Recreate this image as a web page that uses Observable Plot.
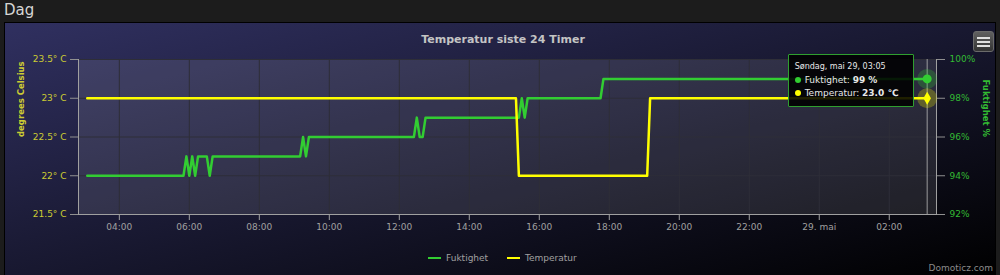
<!DOCTYPE html>
<html>
<head>
<meta charset="utf-8">
<script src="https://cdn.jsdelivr.net/npm/d3@7"></script>
<script src="https://cdn.jsdelivr.net/npm/@observablehq/plot@0.6"></script>
<style>
  html, body { margin: 0; padding: 0; }
  body { width: 1000px; height: 275px; overflow: hidden; position: relative;
         background: #1c1c1c; font-family: "DejaVu Sans", sans-serif; }
  #hdr { position: absolute; left: 4px; top: 1px; font-size: 15px; color: #d6d6d6; }
  #panel { position: absolute; left: 5px; top: 23px; width: 990px; height: 252px; overflow: hidden;
           background: linear-gradient(to bottom right, rgb(48,48,96), rgb(0,0,0));
           outline: 1px solid #000; }
  #panel svg { position: absolute; left: 0; top: 0; }
  #title { position: absolute; top: 10px; left: 498px; transform: translateX(-50%); white-space: nowrap;
           font-size: 11px; font-weight: bold; color: #c4c4c4; line-height: 13px; }
  .leg { position: absolute; top: 229px; font-size: 9px; color: #a0a0a0; line-height: 12px; white-space: nowrap; }
  .leg i { display: inline-block; width: 13px; height: 2px; vertical-align: middle; margin-right: 5px; margin-top: -2px; }
  #tip { position: absolute; width: 124px; height: 51px; background: rgba(0,0,0,0.88);
         border: 1px solid #2f9f2f; border-radius: 1px; color: #e8e8e8; font-size: 9px; }
  #tip .h { position: absolute; left: 6px; top: 7px; font-size: 8px; }
  #tip .r { position: absolute; left: 6px; white-space: nowrap; }
  #tip .r b { font-weight: bold; }
  #tip .d { display: inline-block; width: 6px; height: 6px; border-radius: 3px; margin-right: 4px; vertical-align: 0px; }
  #menu { position: absolute; left: 968px; top: 8px; width: 19px; height: 19px; border-radius: 3px;
          background: linear-gradient(#606060, #333333); border: 1px solid #6a6a6a; }
  #menu span { position: absolute; left: 3px; width: 13px; height: 2px; background: #e0e0e0; }
  #credit { position: absolute; right: 2px; top: 240px; font-size: 9px; line-height: 11px; color: #8a8a8a; }
</style>
</head>
<body>
<div id="hdr">Dag</div>
<div id="panel">
  <div id="chart"></div>
  <div id="title">Temperatur siste 24 Timer</div>
  <div class="leg" style="left:423px"><i style="background:#32cd32"></i>Fuktighet</div>
  <div class="leg" style="left:502px"><i style="background:#ffff00"></i>Temperatur</div>
  <div id="menu"><span style="top:5px"></span><span style="top:9px"></span><span style="top:13px"></span></div>
  <div id="credit">Domoticz.com</div>
</div>
<script>
// ---- data ----
const tempTime = ["2016-05-28T03:05Z","2016-05-28T15:20Z","2016-05-28T15:25Z","2016-05-28T19:05Z","2016-05-28T19:10Z","2016-05-29T03:05Z"];
const tempValue = [23, 23, 22, 22, 23, 23];

const humTime = ["2016-05-28T03:05Z","2016-05-28T05:50Z","2016-05-28T05:55Z","2016-05-28T06:00Z","2016-05-28T06:05Z",
  "2016-05-28T06:10Z","2016-05-28T06:15Z","2016-05-28T06:30Z","2016-05-28T06:35Z","2016-05-28T06:40Z",
  "2016-05-28T09:10Z","2016-05-28T09:15Z","2016-05-28T09:20Z","2016-05-28T09:25Z",
  "2016-05-28T12:25Z","2016-05-28T12:30Z","2016-05-28T12:35Z","2016-05-28T12:40Z","2016-05-28T12:45Z",
  "2016-05-28T15:25Z","2016-05-28T15:30Z","2016-05-28T15:35Z","2016-05-28T15:40Z",
  "2016-05-28T17:45Z","2016-05-28T17:50Z","2016-05-29T03:05Z"];
const humValue = [94, 94, 95, 94, 95, 94, 95, 95, 94, 95, 95, 96, 95, 96, 96, 97, 96, 96, 97, 97, 98, 97, 98, 98, 99, 99];

const tempTicks = [21.5, 22, 22.5, 23, 23.5];
const humTicks = [92, 94, 96, 98, 100];
const xDomain = ["2016-05-28T02:50Z", "2016-05-29T03:21Z"];
const monthName = "mai";

// ---- build ----
const temp = tempTime.map((t, i) => ({time: new Date(t), value: tempValue[i]}));
const hum = humTime.map((t, i) => ({time: new Date(t), value: humValue[i]}));
// map humidity (92..100 %) onto the temperature axis (21.5..23.5 °C)
const hLo = humTicks[0], hHi = humTicks[humTicks.length - 1];
const tLo = tempTicks[0], tHi = tempTicks[tempTicks.length - 1];
const toT = h => tLo + (h - hLo) * (tHi - tLo) / (hHi - hLo);
const toH = t => hLo + (t - tLo) * (hHi - hLo) / (tHi - tLo);

const x0 = new Date(xDomain[0]), x1 = new Date(xDomain[1]);
const xTicks = d3.utcHour.every(2).range(x0, x1);
const fmtHM = d3.utcFormat("%H:%M");
const xFmt = d => d.getUTCHours() === 0 ? `${d.getUTCDate()}. ${monthName}` : fmtHM(d);

const YEL = "#ffff00", GRN = "#32cd32";
const tempEnd = temp[temp.length - 1], humEnd = hum[hum.length - 1];

const chart = Plot.plot({
  width: 990, height: 252,
  marginLeft: 73, marginRight: 59, marginTop: 36, marginBottom: 61,
  style: {background: "transparent", fontFamily: "DejaVu Sans, sans-serif", fontSize: "9px", color: "#a0a0a0", overflow: "visible"},
  x: {type: "utc", domain: [x0, x1]},
  y: {domain: [tLo, tHi]},
  marks: [
    Plot.frame({fill: "white", fillOpacity: 0.1, stroke: null}),
    Plot.gridX(xTicks, {stroke: "#2e2e38", strokeOpacity: 1}),
    Plot.gridY(tempTicks, {stroke: "#2e2e38", strokeOpacity: 1}),
    Plot.frame({anchor: "left", stroke: "#a0a0a0"}),
    Plot.frame({anchor: "bottom", stroke: "#a0a0a0"}),
    Plot.frame({anchor: "right", stroke: "#a0a0a0"}),
    Plot.axisX({ticks: xTicks, tickFormat: xFmt, tickSize: 6, tickPadding: 3, stroke: "#a0a0a0", fill: "#a0a0a0", label: null}),
    Plot.axisY({ticks: tempTicks, anchor: "left", tickFormat: d => `${d}° C`, tickSize: 8, tickPadding: 4, stroke: "#909090", fill: "#cccc33", label: null}),
    Plot.axisY({ticks: humTicks.map(toT), anchor: "right", tickFormat: d => `${Math.round(toH(d))}%`, tickSize: 8, tickPadding: 5, stroke: "#909090", fill: "#33bb33", label: null}),
    Plot.text(["degrees Celsius"], {frameAnchor: "left", rotate: -90, dx: -57, fill: "#cccc33", fontWeight: "bold", fontSize: 8.5}),
    Plot.text(["Fuktighet %"], {frameAnchor: "right", rotate: 90, dx: 49, fill: "#33bb33", fontWeight: "bold", fontSize: 8.5}),
    Plot.ruleX([tempEnd.time], {stroke: "#b8b8b8", strokeOpacity: 0.8}),
    Plot.line(hum, {x: "time", y: d => toT(d.value), stroke: GRN, strokeWidth: 2.5}),
    Plot.line(temp, {x: "time", y: "value", stroke: YEL, strokeWidth: 2.5}),
    Plot.dot([humEnd], {x: "time", y: d => toT(d.value), r: 10, fill: GRN, fillOpacity: 0.25}),
    Plot.dot([humEnd], {x: "time", y: d => toT(d.value), r: 4.5, fill: GRN}),
    Plot.dot([tempEnd], {x: "time", y: "value", r: 10, fill: YEL, fillOpacity: 0.25}),
    Plot.dot([tempEnd], {x: "time", y: "value", r: 4, symbol: "diamond", fill: YEL})
  ]
});
document.getElementById("chart").appendChild(chart);

// tooltip anchored to the last point via the plot's x scale
const px = chart.scale("x").apply(tempEnd.time);
const fmtDay = d3.utcFormat("%d, %H:%M");
const tip = document.createElement("div");
tip.id = "tip";
tip.style.left = (px - 13 - 126) + "px";
tip.style.top = "31px";
tip.innerHTML =
  `<div class="h">Søndag, ${monthName} ${fmtDay(tempEnd.time)}</div>` +
  `<div class="r" style="top:20px"><span class="d" style="background:${GRN}"></span>Fuktighet: <b>${humEnd.value} %</b></div>` +
  `<div class="r" style="top:33px"><span class="d" style="background:${YEL}"></span>Temperatur: <b>${tempEnd.value.toFixed(1)} ℃</b></div>`;
document.getElementById("panel").appendChild(tip);
</script>
</body>
</html>
